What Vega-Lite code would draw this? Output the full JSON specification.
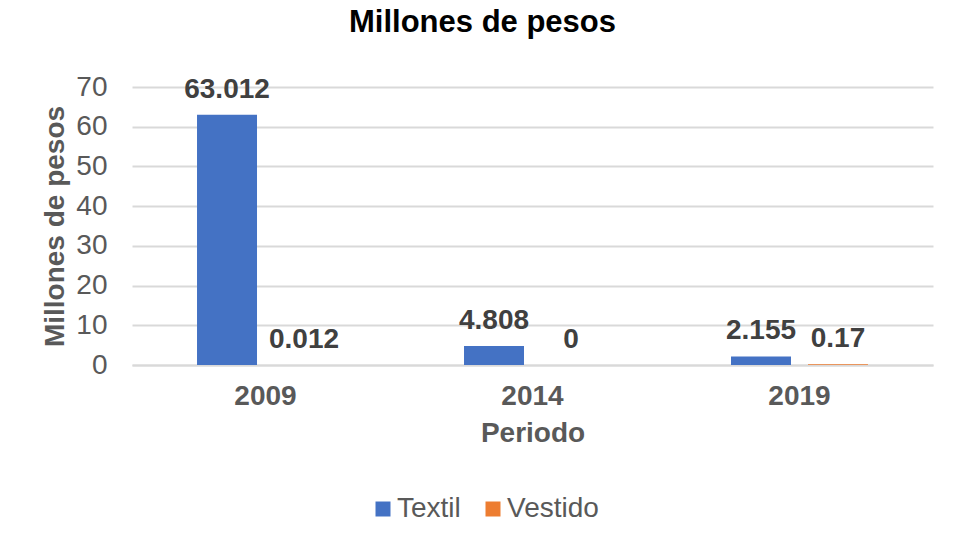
{
  "$schema": "https://vega.github.io/schema/vega-lite/v6.json",
  "width": 801,
  "height": 278,
  "autosize": {"type": "none"},
  "padding": {"left": 132, "top": 87, "right": 32, "bottom": 186},
  "background": "white",
  "title": {
    "text": "Millones de pesos",
    "font": "Liberation Sans",
    "fontSize": 31,
    "fontWeight": "bold",
    "color": "#000000",
    "anchor": "middle",
    "offset": 34,
    "dx": -50
  },
  "data": {
    "values": [
      {"periodo": "2009", "serie": "Textil", "valor": 63.012, "etiqueta": "63.012"},
      {"periodo": "2009", "serie": "Vestido", "valor": 0.012, "etiqueta": "0.012"},
      {"periodo": "2014", "serie": "Textil", "valor": 4.808, "etiqueta": "4.808"},
      {"periodo": "2014", "serie": "Vestido", "valor": 0, "etiqueta": "0"},
      {"periodo": "2019", "serie": "Textil", "valor": 2.155, "etiqueta": "2.155"},
      {"periodo": "2019", "serie": "Vestido", "valor": 0.17, "etiqueta": "0.17"}
    ]
  },
  "encoding": {
    "x": {
      "field": "periodo",
      "type": "nominal",
      "scale": {"paddingInner": 0.4247, "paddingOuter": 0.2124},
      "axis": {
        "title": "Periodo",
        "labelAngle": 0,
        "labelFont": "Liberation Sans",
        "labelFontSize": 28,
        "labelFontWeight": "bold",
        "labelColor": "#595959",
        "labelPadding": 17,
        "ticks": false,
        "domainColor": "#d9d9d9",
        "domainWidth": 2,
        "titleFont": "Liberation Sans",
        "titleFontSize": 28,
        "titleFontWeight": "bold",
        "titleColor": "#595959",
        "titlePadding": 9
      }
    },
    "xOffset": {
      "field": "serie",
      "type": "nominal",
      "scale": {"paddingInner": 0.2208, "paddingOuter": 0.108}
    },
    "y": {
      "field": "valor",
      "type": "quantitative",
      "scale": {"domain": [0, 70]},
      "axis": {
        "title": "Millones de pesos",
        "values": [0, 10, 20, 30, 40, 50, 60, 70],
        "labelFont": "Liberation Sans",
        "labelFontSize": 28,
        "labelColor": "#595959",
        "labelPadding": 25,
        "ticks": false,
        "domain": false,
        "gridColor": "#d9d9d9",
        "gridWidth": 2,
        "titleFont": "Liberation Sans",
        "titleFontSize": 28,
        "titleFontWeight": "bold",
        "titleColor": "#595959",
        "titlePadding": 6
      }
    }
  },
  "layer": [
    {
      "mark": {"type": "bar"},
      "encoding": {
        "color": {
          "field": "serie",
          "type": "nominal",
          "scale": {"domain": ["Textil", "Vestido"], "range": ["#4472C4", "#ED7D31"]},
          "legend": {
            "title": null,
            "orient": "none",
            "direction": "horizontal",
            "legendX": 237,
            "legendY": 408,
            "symbolType": "square",
            "symbolSize": 225,
            "symbolStrokeWidth": 0,
            "labelFont": "Liberation Sans",
            "labelFontSize": 28,
            "labelColor": "#595959",
            "labelOffset": 0,
            "columnPadding": 18
          }
        }
      }
    },
    {
      "mark": {
        "type": "text",
        "baseline": "alphabetic",
        "dy": -17,
        "font": "Liberation Sans",
        "fontSize": 28,
        "fontWeight": "bold",
        "color": "#404040"
      },
      "encoding": {
        "text": {"field": "etiqueta", "type": "nominal"}
      }
    }
  ],
  "config": {
    "view": {"stroke": null}
  }
}
